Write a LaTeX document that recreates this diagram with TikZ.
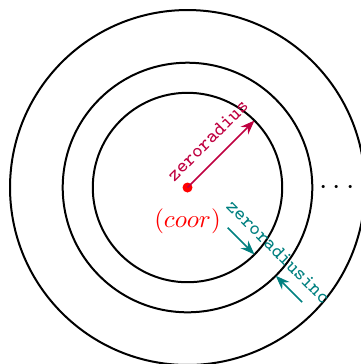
\documentclass[tikz,border=0pt]{standalone}
\usepackage{amsmath}
\usepackage{xcolor}
\usetikzlibrary{arrows.meta,positioning,calc}
\tikzset{
  ring/.style={draw=black,thick},
  centre/.style={circle,fill=red,inner sep=0pt,minimum size=4pt},
  radarrow/.style={-{Stealth},semithick,draw=purple},
  incarrow/.style={-{Stealth},semithick,draw=teal},
  radlabel/.style={font=\footnotesize\ttfamily,text=purple},
  inclabel/.style={font=\footnotesize\ttfamily,text=teal}
}
\begin{document}
\begin{tikzpicture}
  \useasboundingbox (-2.637,-2.482) rectangle (2.426,2.637);
  \node[centre] (coor) at (0,0) {};
  \node[text=red,below=0.1cm of coor] (coorlabel) {$(coor)$};
  \draw[ring] (coor) circle (1.332);
  \draw[ring] (coor) circle (1.755);
  \draw[ring] (coor) circle (2.496);
  \node[font=\large] (more) at (2.14,0) {$\cdots$};
  % radius of the first ring
  \coordinate (radtip) at (45:1.332);
  \draw[radarrow] (coor.center) -- (radtip) node[radlabel,midway,above=1.5pt,sloped] (radtext) {zeroradius};
  % increment between rings
  \coordinate (incin) at (-45:1.332);
  \coordinate (incout) at (-45:1.755);
  \coordinate (incfromin) at (-45:0.8);
  \coordinate (incfromout) at (-45:2.28);
  \draw[incarrow] (incfromin) -- (incin);
  \draw[incarrow] (incfromout) -- (incout);
  \path (incin) -- (incout) node[inclabel,midway,above=1.5pt,sloped] (inctext) {zeroradiusinc};
\end{tikzpicture}
\end{document}
